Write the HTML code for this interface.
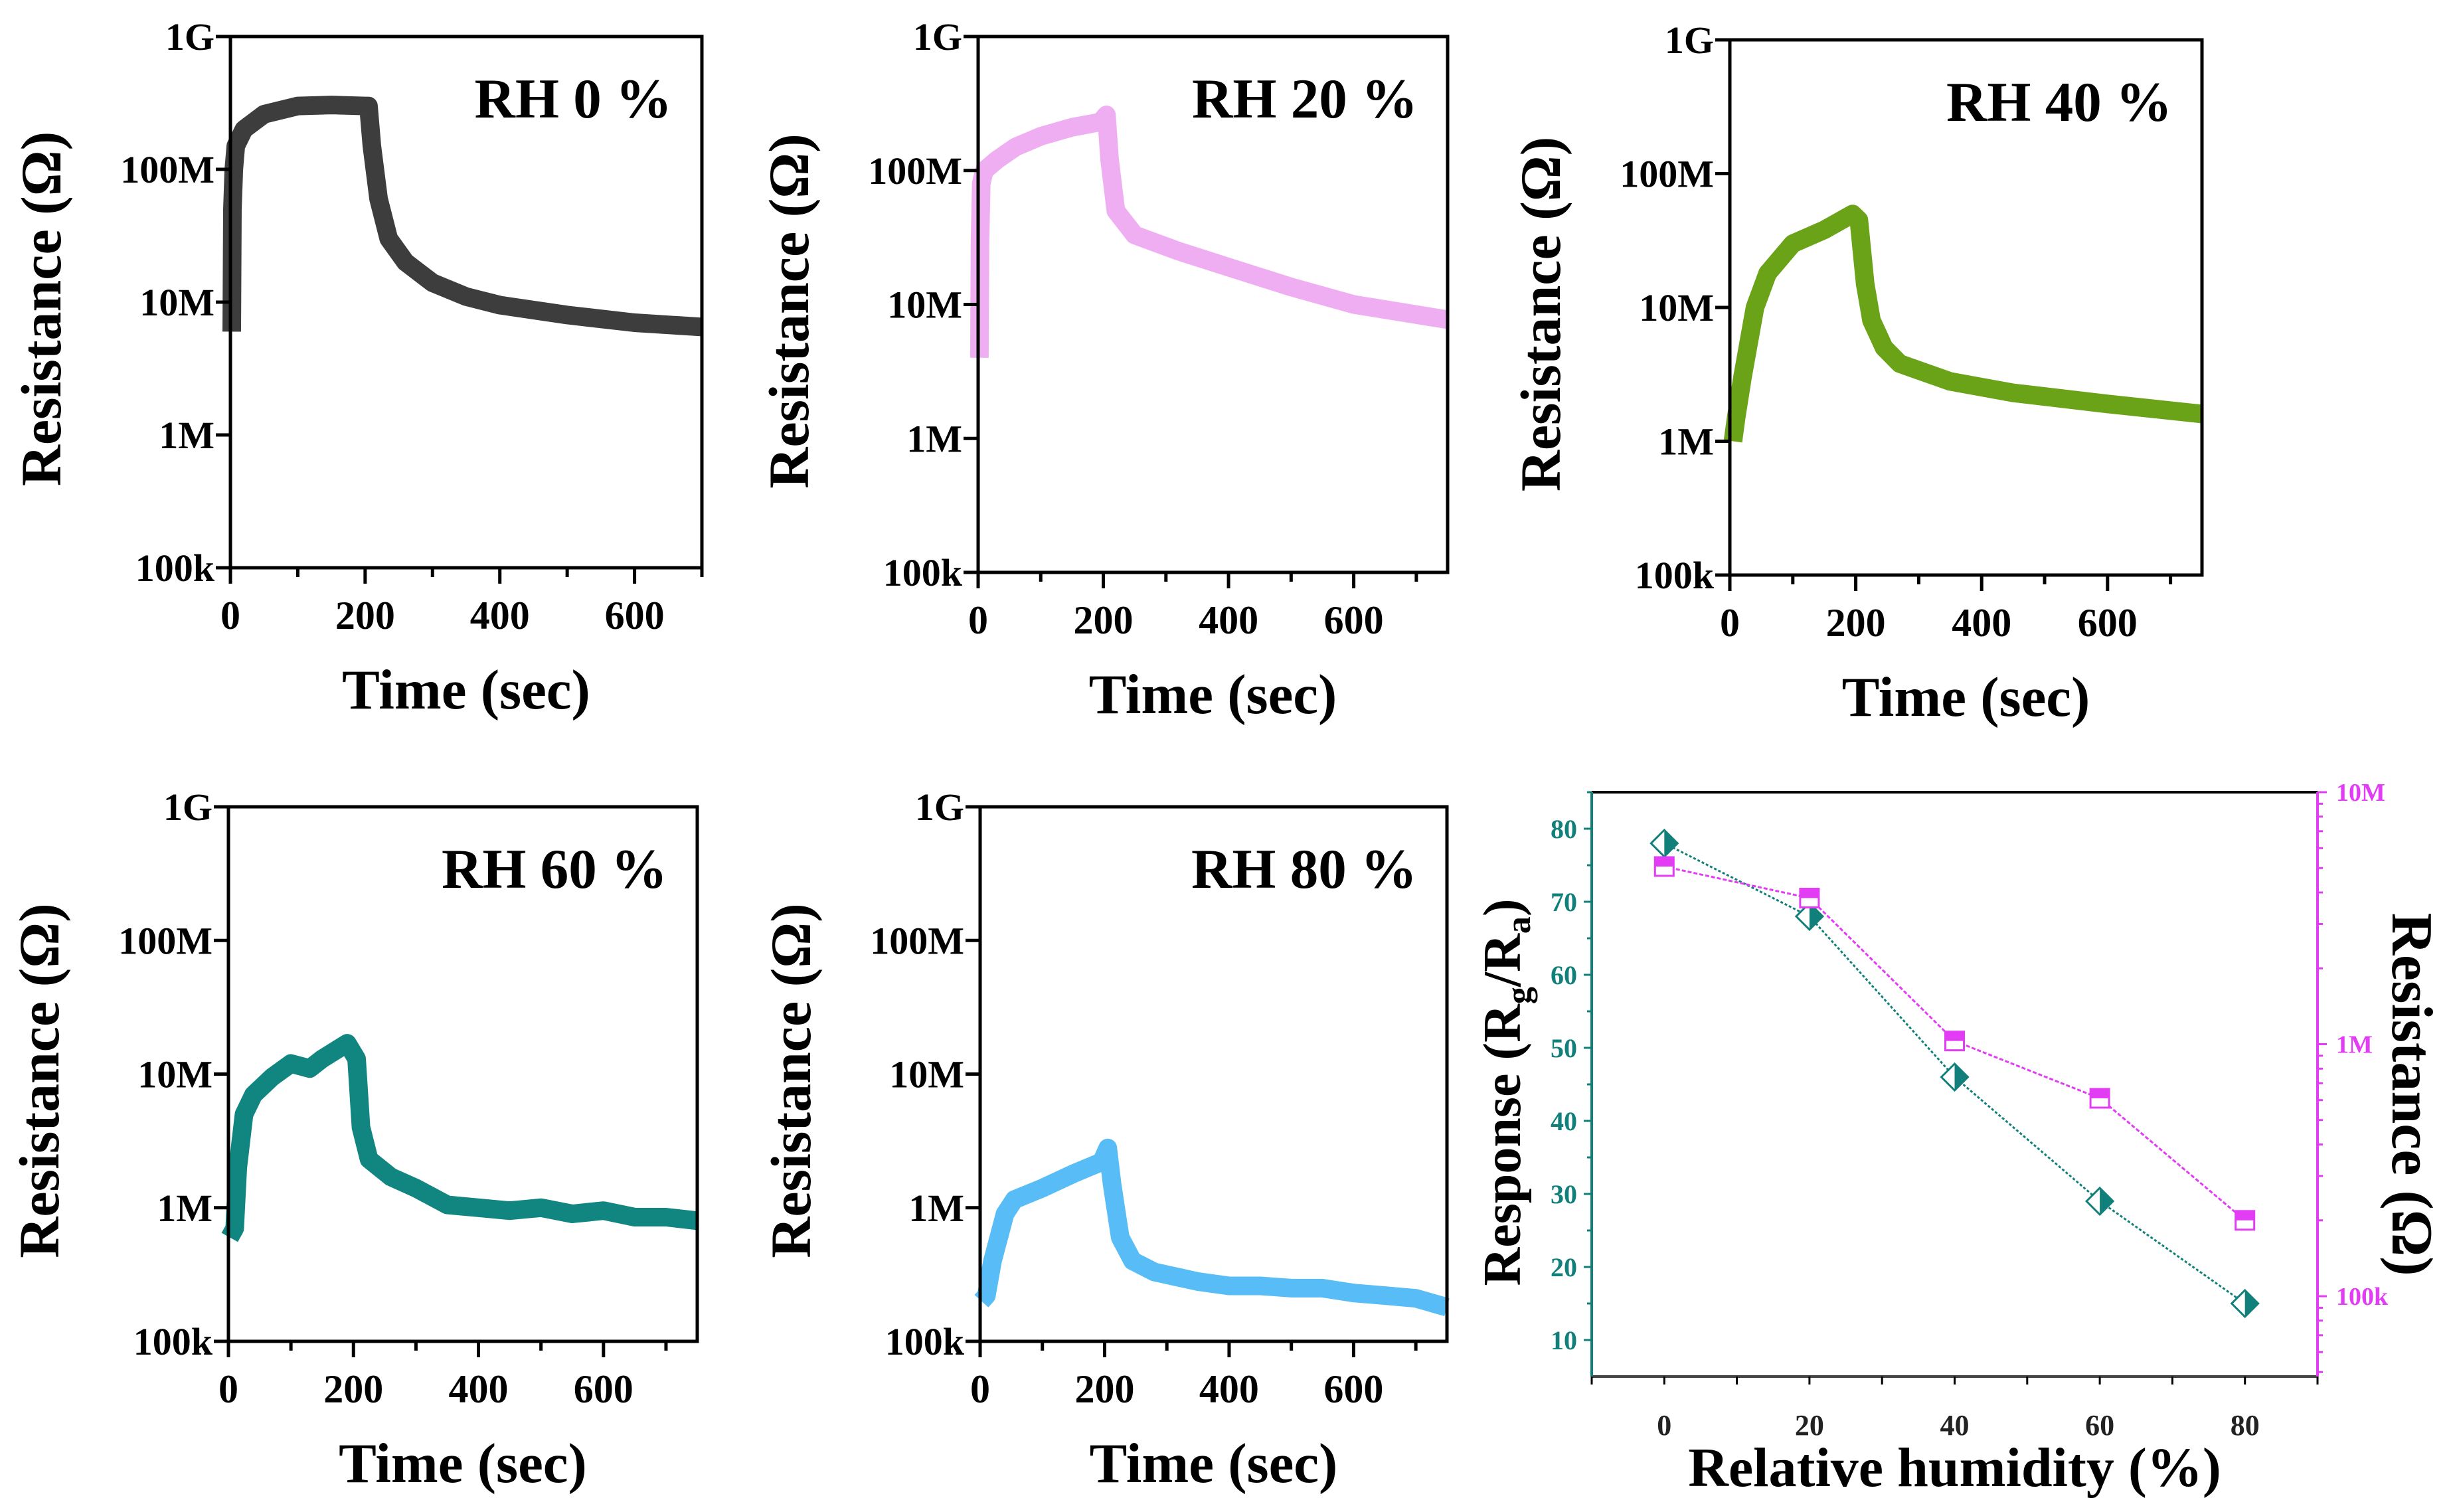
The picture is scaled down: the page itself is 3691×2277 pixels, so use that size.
<!DOCTYPE html>
<html><head><meta charset="utf-8"><style>
html,body{margin:0;padding:0;background:#fff}
svg{display:block}
text{font-family:"Liberation Serif",serif;font-weight:bold}
</style></head><body>
<svg id="fig" width="3691" height="2277" viewBox="0 0 3691 2277" xmlns="http://www.w3.org/2000/svg"></svg>
<script>
// ---- data: time series (time s, resistance ohm) ----
const rh0T = [2,3,5,8,20,50,100,150,200,205,210,220,235,260,300,350,400,500,600,700];
const rh0R = [6e6,5e7,1e8,1.5e8,2e8,2.6e8,3e8,3.05e8,3e8,3e8,1.5e8,6e7,3e7,2e7,1.4e7,1.1e7,9.5e6,8e6,7e6,6.5e6];
const rh20T = [2,3,5,10,30,60,100,150,195,205,210,220,250,320,400,500,600,750];
const rh20R = [4e6,3e7,8e7,1e8,1.2e8,1.5e8,1.8e8,2.1e8,2.3e8,2.6e8,1.2e8,5e7,3.3e7,2.5e7,1.9e7,1.35e7,1e7,7.7e6];
const rh40T = [5,10,20,40,60,100,150,195,205,215,225,245,270,350,450,600,750];
const rh40R = [1e6,1.5e6,3e6,1e7,1.8e7,3e7,3.8e7,5e7,4.5e7,1.5e7,8e6,5e6,3.8e6,2.8e6,2.3e6,1.9e6,1.6e6];
const rh60T = [2,10,15,25,40,70,100,130,150,190,205,212,225,260,300,350,400,450,500,550,600,650,700,750];
const rh60R = [6e5,7e5,2e6,5e6,7e6,9.5e6,1.2e7,1.1e7,1.3e7,1.7e7,1.3e7,4e6,2.3e6,1.7e6,1.4e6,1.05e6,1e6,9.5e5,1e6,9e5,9.5e5,8.5e5,8.5e5,8e5];
const rh80T = [2,10,20,40,55,100,150,195,205,212,225,245,280,350,400,450,500,550,600,650,700,750];
const rh80R = [2e5,2.2e5,4e5,9e5,1.15e6,1.4e6,1.8e6,2.2e6,2.8e6,1.5e6,6e5,4e5,3.3e5,2.8e5,2.6e5,2.6e5,2.5e5,2.5e5,2.3e5,2.2e5,2.1e5,1.8e5];
// ---- data: summary panel ----
const rhCats = [0,20,40,60,80];
const responseVals = [78,68,46,29,15];
const resistVals = [5.07e6,3.8e6,1.03e6,6.1e5,2.0e5];
const decadeLabels = ["100k","1M","10M","100M","1G"];
const timeTicks = [0,200,400,600];
const respTicks = [10,20,30,40,50,60,70,80];
const rhTicks = [0,20,40,60,80];
const rightLabels = ["100k","1M","10M"];

const NS="http://www.w3.org/2000/svg";
const svg=document.getElementById('fig');
function mk(tag,attrs,parent){const e=document.createElementNS(NS,tag);for(const k in attrs)e.setAttribute(k,attrs[k]);(parent||svg).appendChild(e);return e;}

const panels=[
 {name:'rh0',title:'RH 0 %',T:rh0T,R:rh0R,color:'#3d3d3d',L:347,Rt:1057,Tp:55,B:855,xmax:700},
 {name:'rh20',title:'RH 20 %',T:rh20T,R:rh20R,color:'#efaef2',L:1473,Rt:2180,Tp:55,B:862,xmax:750},
 {name:'rh40',title:'RH 40 %',T:rh40T,R:rh40R,color:'#6aa318',L:2605,Rt:3316,Tp:60,B:866,xmax:750},
 {name:'rh60',title:'RH 60 %',T:rh60T,R:rh60R,color:'#118680',L:344,Rt:1050,Tp:1215,B:2020,xmax:750},
 {name:'rh80',title:'RH 80 %',T:rh80T,R:rh80R,color:'#58bdf6',L:1476,Rt:2179,Tp:1215,B:2020,xmax:750}
];

panels.forEach(p=>{
  const g=mk('g',{});
  
  
  const xs=t=>p.L+(t/p.xmax)*(p.Rt-p.L);
  const ys=r=>p.B-(Math.log10(r)-5)/4*(p.B-p.Tp);
  let pts=p.T.map((t,i)=>xs(t).toFixed(1)+','+ys(p.R[i]).toFixed(1)).join(' ');
  const line=mk('polyline',{points:pts,fill:'none',stroke:p.color,'stroke-width':28,'stroke-linejoin':'round','stroke-linecap':'butt'},g);
  
  
  const fr=mk('rect',{x:p.L,y:p.Tp,width:p.Rt-p.L,height:p.B-p.Tp,fill:'none',stroke:'#000','stroke-width':5},g);
  
  
  decadeLabels.forEach((lab,i)=>{
    const y=ys(Math.pow(10,5+i));
    mk('line',{x1:p.L-22,x2:p.L,y1:y,y2:y,stroke:'#000','stroke-width':5},g);
    const t=mk('text',{x:p.L-24,y:y+20,'text-anchor':'end','font-size':58},g);
    t.textContent=lab;
    
    
  });
  for(let v=0;v<=p.xmax;v+=100){
    const x=xs(v);const major=v%200===0;
    mk('line',{x1:x,x2:x,y1:p.B,y2:p.B+(major?24:14),stroke:'#000','stroke-width':5},g);
  }
  timeTicks.forEach(v=>{
    const t=mk('text',{x:xs(v),y:p.B+92,'text-anchor':'middle','font-size':60},g);
    t.textContent=v;
    
    
  });
  const xt=mk('text',{x:(p.L+p.Rt)/2,y:p.B+212,'text-anchor':'middle','font-size':85},g);
  xt.textContent='Time (sec)';
  
  
  const cy=(p.Tp+p.B)/2+10;const cx=p.L-285;
  const yt=mk('text',{x:cx,y:cy,'text-anchor':'middle','font-size':86,transform:`rotate(-90 ${cx} ${cy})`,dy:29},g);
  yt.textContent='Resistance (Ω)';
  
  
  const tt=mk('text',{x:p.Rt-45,y:p.Tp+122,'text-anchor':'end','font-size':85},g);
  tt.textContent=p.title;
  
  
});

// ---- summary panel ----
(function(){
  const L=2397,Rt=3490,Tp=1193,B=2073;
  const teal='#12807a',mag='#e23cf5';
  const g=mk('g',{});
  
  
  const xs=v=>L+(v+10)/100*(Rt-L);
  const yl=v=>B-(v-5)/80*(B-Tp);
  const lmin=Math.log10(4.8e4),lmax=7;
  const yr=r=>B-(Math.log10(r)-lmin)/(lmax-lmin)*(B-Tp);
  mk('line',{x1:L,x2:Rt,y1:Tp,y2:Tp,stroke:'#000','stroke-width':4},g);
  mk('line',{x1:L,x2:Rt,y1:B,y2:B,stroke:'#444','stroke-width':4},g);
  mk('line',{x1:L,x2:L,y1:Tp,y2:B,stroke:teal,'stroke-width':4},g);
  mk('line',{x1:Rt,x2:Rt,y1:Tp,y2:B,stroke:mag,'stroke-width':4},g);
  for(let v=-10;v<=90;v+=10){const x=xs(v);mk('line',{x1:x,x2:x,y1:B,y2:B+12,stroke:'#000','stroke-width':3},g);}
  rhTicks.forEach(v=>{const t=mk('text',{x:xs(v),y:B+88,'text-anchor':'middle','font-size':44,fill:'#222'},g);t.textContent=v;
    });
  for(let v=10;v<=85;v+=5){const y=yl(v);mk('line',{x1:L-(v%10===0?12:7),x2:L,y1:y,y2:y,stroke:teal,'stroke-width':3},g);}
  respTicks.forEach(v=>{const t=mk('text',{x:L-22,y:yl(v)+14,'text-anchor':'end','font-size':40,fill:teal},g);t.textContent=v;
    });
  for(let d=4;d<=6;d++){for(let m=1;m<10;m++){const r=m*Math.pow(10,d);if(Math.log10(r)<lmin)continue;const y=yr(r);
    mk('line',{x1:Rt,x2:Rt+(m===1?14:8),y1:y,y2:y,stroke:mag,'stroke-width':3},g);}}
  mk('line',{x1:Rt,x2:Rt+14,y1:yr(1e7),y2:yr(1e7),stroke:mag,'stroke-width':3},g);
  rightLabels.forEach((lab,i)=>{const t=mk('text',{x:Rt+28,y:yr(Math.pow(10,5+i))+13,'font-size':38,fill:mag},g);t.textContent=lab;
    });
  const rp=rhCats.map((c,i)=>xs(c)+','+yl(responseVals[i])).join(' ');
  const rl=mk('polyline',{points:rp,fill:'none',stroke:teal,'stroke-width':3,'stroke-dasharray':'4 3'},g);
  
  const sp=rhCats.map((c,i)=>xs(c)+','+yr(resistVals[i])).join(' ');
  const sl=mk('polyline',{points:sp,fill:'none',stroke:mag,'stroke-width':3,'stroke-dasharray':'6 3'},g);
  
  rhCats.forEach((c,i)=>{
    const x=xs(c),y=yl(responseVals[i]),s=20;
    const d=mk('polygon',{points:`${x},${y-s} ${x+s},${y} ${x},${y+s} ${x-s},${y}`,fill:'#fff',stroke:teal,'stroke-width':3},g);
    
    mk('polygon',{points:`${x},${y-s} ${x+s},${y} ${x},${y+s}`,fill:teal},g);
    const y2=yr(resistVals[i]);
    const q=mk('rect',{x:x-14,y:y2-14,width:28,height:28,fill:'#fff',stroke:mag,'stroke-width':3},g);
    
    mk('rect',{x:x-14,y:y2-14,width:28,height:14,fill:mag},g);
  });
  const xt=mk('text',{x:(L+Rt)/2,y:B+165,'text-anchor':'middle','font-size':84},g);
  xt.textContent='Relative humidity (%)';
  
  const cx=2262,cy=1645;
  const yt=mk('text',{x:cx,y:cy,dy:27,'text-anchor':'middle','font-size':80,transform:`rotate(-90 ${cx} ${cy})`},g);
  yt.innerHTML='Response (R<tspan font-size="52" dy="15">g</tspan><tspan dy="-15">/R</tspan><tspan font-size="52" dy="15">a</tspan><tspan dy="-15">)</tspan>';
  
  const rx=3632,ry=1648;
  const rt=mk('text',{x:rx,y:ry,dy:29,'text-anchor':'middle','font-size':88,transform:`rotate(90 ${rx} ${ry})`},g);
  rt.textContent='Resistance (Ω)';
  
})();
</script>
</body></html>
